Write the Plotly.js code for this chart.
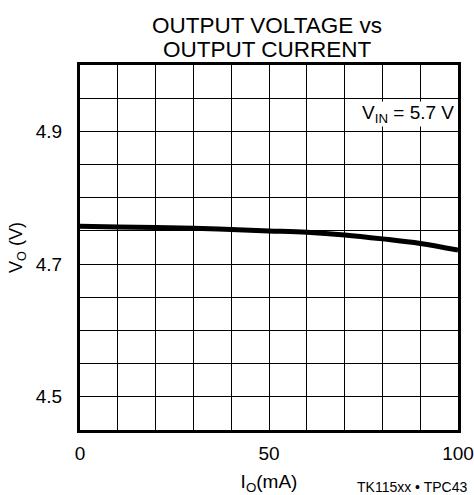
<!DOCTYPE html>
<html>
<head>
<meta charset="utf-8">
<script src="https://cdn.plot.ly/plotly-3.0.1.min.js"></script>
<style>html,body{margin:0;padding:0;background:#fff;}#chart{width:474px;height:495px;}</style>
</head>
<body>
<div id="chart"></div>
<script>
const currentMA = [0, 10, 20, 30, 40, 50, 60, 70, 80, 90, 100];
const outputV = [4.757, 4.756, 4.755, 4.754, 4.752, 4.750, 4.748, 4.744, 4.738, 4.731, 4.721];
const xTickVals = [0, 10, 20, 30, 40, 50, 60, 70, 80, 90, 100];
const xTickText = ["0", "", "", "", "", "50", "", "", "", "", "100"];
const yTickVals = [4.45, 4.5, 4.55, 4.6, 4.65, 4.7, 4.75, 4.8, 4.85, 4.9, 4.95, 5.0];
const yTickText = ["", "4.5", "", "", "", "4.7", "", "", "", "4.9", "", ""];
const titleLines = ["OUTPUT VOLTAGE vs", "OUTPUT CURRENT"];

const fam = "Liberation Sans, Arial, sans-serif";
const font = {family: fam, color: "#000", size: 19};

const trace = {
  x: currentMA, y: outputV, mode: "lines", type: "scatter",
  line: {color: "#000", width: 5, shape: "spline"}, hoverinfo: "skip"
};

const layout = {
  width: 474, height: 495,
  margin: {l: 80, r: 16, t: 65, b: 65},
  paper_bgcolor: "#fff", plot_bgcolor: "#fff",
  font: font,
  showlegend: false,
  xaxis: {
    range: [0, 100], tickvals: xTickVals, ticktext: xTickText,
    showgrid: true, gridcolor: "#000", gridwidth: 1,
    showline: true, linecolor: "#000", linewidth: 3, mirror: true,
    zeroline: false, ticks: "", ticklabelstandoff: 4,
    tickfont: {size: 19},
    title: {text: "I<sub>O</sub>(mA)", font: {size: 19}, standoff: 12}
  },
  yaxis: {
    range: [4.45, 5.0], tickvals: yTickVals, ticktext: yTickText,
    showgrid: true, gridcolor: "#000", gridwidth: 1,
    showline: true, linecolor: "#000", linewidth: 3, mirror: true,
    zeroline: false, ticks: "", ticklabelstandoff: 11,
    tickfont: {size: 19},
    title: {text: "V<sub>O</sub> (V)", font: {size: 18}, standoff: 9}
  },
  annotations: [
    {xref: "paper", yref: "paper", x: 0.495, y: (430 - 25.5) / 365, xanchor: "center", yanchor: "middle",
     text: titleLines[0], showarrow: false, font: {size: 22.5}},
    {xref: "paper", yref: "paper", x: 0.495, y: (430 - 49.5) / 365, xanchor: "center", yanchor: "middle",
     text: titleLines[1], showarrow: false, font: {size: 22.5}},
    {xref: "paper", yref: "y", x: 0.993, y: 4.926, xanchor: "right", yanchor: "middle",
     text: "V<sub>IN</sub> = 5.7 V", showarrow: false, font: {size: 19}, bgcolor: "#fff", borderpad: 0},
    {xref: "paper", yref: "paper", x: 1.03, y: (430 - 487) / 365, xanchor: "right", yanchor: "middle",
     text: "TK115xx • TPC43", showarrow: false, font: {size: 14}}
  ]
};

Plotly.newPlot("chart", [trace], layout, {displayModeBar: false, staticPlot: true});
</script>
</body>
</html>
